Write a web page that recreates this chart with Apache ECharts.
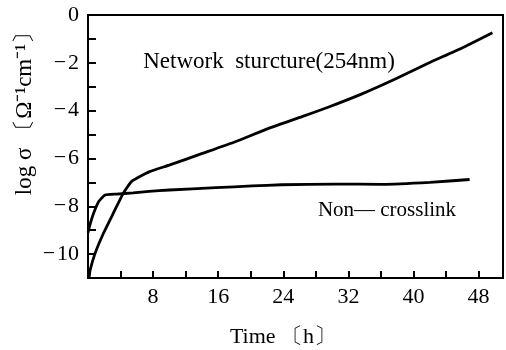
<!DOCTYPE html>
<html>
<head>
<meta charset="utf-8">
<title>log sigma vs time</title>
<script src="https://cdn.jsdelivr.net/npm/echarts@6/dist/echarts.min.js"></script>
<style>
  html, body {margin: 0; padding: 0; background: #fff;}
  #chart {width: 506px; height: 350px;}
</style>
</head>
<body>
<div id="chart"></div>
<script>
  /*
    data
    networkTime / networkLog:  Network sturcture(254nm) curve
    nonTime / nonLog:          Non-crosslink curve
  */
  var networkTime = [0.15, 0.26, 0.87, 1.9, 3.1, 4.33, 5.4, 7.5, 9.97, 14.05, 18.1, 22.2, 26.3, 29.5, 33.6, 37.7, 41.8, 45.9, 49.7];
  var networkLog  = [-10.95, -10.67, -9.97, -9.13, -8.3, -7.46, -6.95, -6.56, -6.28, -5.79, -5.3, -4.74, -4.25, -3.86, -3.31, -2.69, -2.02, -1.39, -0.74];

  var nonTime = [0, 0.3, 0.7, 1.3, 2.1, 3.5, 5.55, 7.5, 10, 15.7, 20.2, 23.8, 30.4, 36.1, 42, 46.9];
  var nonLog  = [-9.1, -8.7, -8.28, -7.81, -7.53, -7.49, -7.44, -7.38, -7.32, -7.22, -7.15, -7.1, -7.07, -7.08, -7.0, -6.88];

  var xTickLabels = [8, 16, 24, 32, 40, 48];
  var yTickLabels = [0, -2, -4, -6, -8, -10];

(function(){
  'use strict';

  var serif = "'Liberation Serif', 'Times New Roman', serif";

  // pair x / y arrays for a value axis
  var pairs = function(xs, ys){
    return xs.map(function(x, i){ return [x, ys[i]]; });
  };

  var minus = function(v){
    return v < 0 ? '\u2212\u200A' + Math.abs(v) : String(v);
  };

  var lineSeries = function(name, data){
    return {
      name: name,
      type: 'line',
      data: data,
      smooth: 0.15,
      symbol: 'none',
      lineStyle: {color: '#000', width: 2.8},
      z: 3
    };
  };

  var option = {
    backgroundColor: '#fff',
    animation: false,
    grid: {
      left: 88, top: 15, right: 2, bottom: 72,
      show: true, borderColor: '#000', borderWidth: 2
    },
    xAxis: {
      type: 'value',
      min: 0, max: 51, interval: 4,
      axisLine: {onZero: false, lineStyle: {color: '#000', width: 2}},
      axisTick: {inside: true, length: 7, lineStyle: {color: '#000', width: 2}},
      splitLine: {show: false},
      axisLabel: {
        margin: 8,
        color: '#000', fontFamily: serif, fontSize: 22,
        formatter: function(v){ return xTickLabels.indexOf(v) !== -1 ? String(v) : ''; }
      }
    },
    yAxis: {
      type: 'value',
      min: -11, max: 0, interval: 1,
      axisLine: {onZero: false, lineStyle: {color: '#000', width: 2}},
      axisTick: {inside: true, length: 8, lineStyle: {color: '#000', width: 2}},
      splitLine: {show: false},
      axisLabel: {
        margin: 9,
        color: '#000', fontFamily: serif, fontSize: 22,
        formatter: function(v){ return yTickLabels.indexOf(v) !== -1 ? minus(v) : ''; }
      }
    },
    graphic: [
      {
        type: 'text', x: 25, y: 108, rotation: Math.PI / 2,
        style: {
          text: 'log σ 〔Ω\u207B\u00B9cm\u207B\u00B9〕',
          fill: '#000', font: '23px ' + serif,
          textAlign: 'center', textVerticalAlign: 'middle'
        }
      },
      {
        type: 'text', x: 283, y: 337,
        style: {
          text: 'Time 〔h〕',
          fill: '#000', font: '22px ' + serif,
          textAlign: 'center', textVerticalAlign: 'middle'
        }
      },
      {
        type: 'text', x: 269, y: 62,
        style: {
          text: 'Network  sturcture(254nm)',
          fill: '#000', font: '23px ' + serif,
          textAlign: 'center', textVerticalAlign: 'middle'
        }
      },
      {
        type: 'text', x: 387, y: 210,
        style: {
          text: 'Non— crosslink',
          fill: '#000', font: '21px ' + serif,
          textAlign: 'center', textVerticalAlign: 'middle'
        }
      }
    ],
    series: [
      lineSeries('Network sturcture(254nm)', pairs(networkTime, networkLog)),
      lineSeries('Non-crosslink', pairs(nonTime, nonLog))
    ]
  };

  echarts.init(document.getElementById('chart'), null, {renderer: 'canvas'}).setOption(option);
})();
</script>
</body>
</html>
